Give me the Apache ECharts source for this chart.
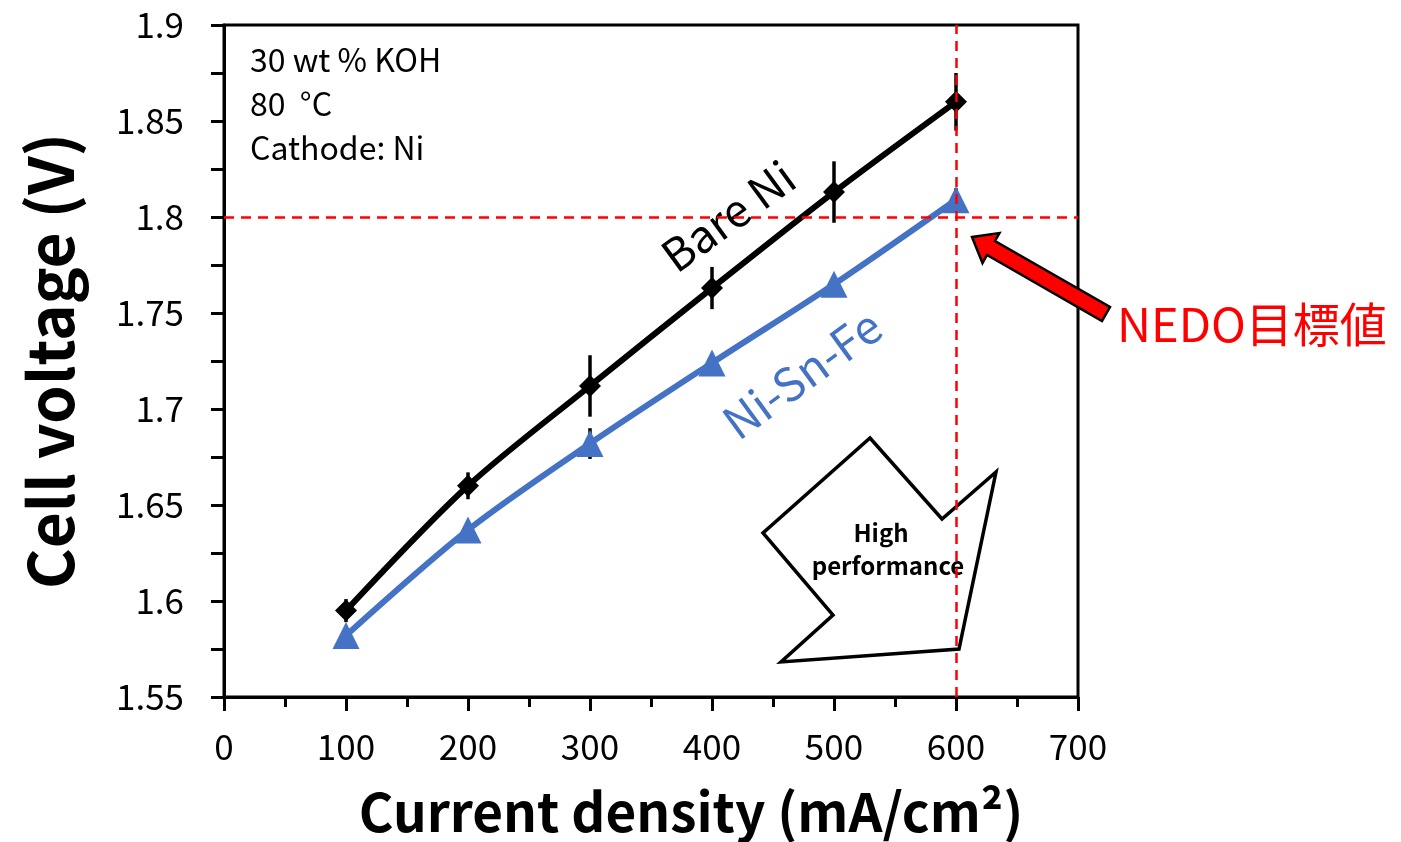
<!DOCTYPE html>
<html>
<head>
<meta charset="utf-8">
<script src="https://cdn.jsdelivr.net/npm/echarts@6/dist/echarts.min.js"></script>
<style>
  html, body { margin: 0; padding: 0; background: #fff; }
  #chart { width: 1401px; height: 842px; }
</style>
</head>
<body>
<div id="chart"></div>
<script>
// data
const currentDensity = [100, 200, 300, 400, 500, 600];
const bareNi = [1.595, 1.660, 1.712, 1.763, 1.813, 1.860];
const bareNiErr = [0.006, 0.007, 0.016, 0.011, 0.016, 0.015];
const niSnFe = [1.582, 1.637, 1.682, 1.724, 1.765, 1.809];
const niSnFeErr = [0.003, 0.004, 0.008, 0.004, 0.002, 0.006];
const targetVoltage = 1.8;   // NEDO target
const targetCurrent = 600;

const FONT = '"Noto Sans CJK JP", "Noto Sans", sans-serif';
const BLUE = '#4472C4';

function pairs(ys) {
  return currentDensity.map((x, i) => [x, ys[i]]);
}
function errData(ys, errs) {
  return currentDensity.map((x, i) => [x, ys[i], errs[i]]);
}
// vertical error bar drawn through the axes
function renderErr(params, api) {
  const x = api.value(0), y = api.value(1), e = api.value(2);
  const p1 = api.coord([x, y + e]);
  const p2 = api.coord([x, y - e]);
  return {
    type: 'line',
    shape: { x1: p1[0], y1: p1[1], x2: p2[0], y2: p2[1] },
    style: { stroke: '#000', lineWidth: 3.5 }
  };
}

const deg = Math.PI / 180;

const option = {
  animation: false,
  grid: {
    left: 224, right: 323, top: 25, bottom: 145,
    outerBoundsMode: 'none', containLabel: false,
    show: true, borderColor: '#000', borderWidth: 3
  },
  xAxis: {
    type: 'value', min: 0, max: 700, interval: 100,
    name: 'Current density (mA/cm²)',
    nameLocation: 'middle', nameGap: 88,
    nameTextStyle: { fontFamily: FONT, fontSize: 53, fontWeight: 'bold', color: '#000', padding: [0, 0, 0, 80] },
    axisLine: { lineStyle: { color: '#000', width: 3 } },
    axisTick: { length: 14, lineStyle: { color: '#000', width: 3 } },
    minorTick: { show: true, splitNumber: 2, length: 10, lineStyle: { color: '#000', width: 3 } },
    splitLine: { show: false },
    axisLabel: { fontFamily: FONT, fontSize: 35, color: '#000', margin: 32 }
  },
  yAxis: {
    type: 'value', min: 1.55, max: 1.9, interval: 0.05,
    name: 'Cell voltage (V)',
    nameLocation: 'middle', nameGap: 143,
    nameTextStyle: { fontFamily: FONT, fontSize: 62, fontWeight: 'bold', color: '#000' },
    axisLine: { lineStyle: { color: '#000', width: 3 } },
    axisTick: { length: 13, lineStyle: { color: '#000', width: 3 } },
    minorTick: { show: true, splitNumber: 2, length: 13, lineStyle: { color: '#000', width: 3 } },
    splitLine: { show: false },
    axisLabel: { fontFamily: FONT, fontSize: 35, color: '#000', margin: 40 }
  },
  series: [
    {
      // target lines
      type: 'line', data: [], silent: true, z: 1,
      markLine: {
        silent: true, symbol: 'none', label: { show: false },
        lineStyle: { color: '#FF0000', width: 2.5, type: [10, 7] },
        data: [{ yAxis: targetVoltage }, { xAxis: targetCurrent }]
      }
    },
    {
      type: 'custom', renderItem: renderErr, data: errData(bareNi, bareNiErr), z: 2, silent: true
    },
    {
      type: 'custom', renderItem: renderErr, data: errData(niSnFe, niSnFeErr), z: 2, silent: true
    },
    {
      name: 'Bare Ni', type: 'line', data: pairs(bareNi), z: 3,
      smooth: 0.3, symbol: 'diamond', symbolSize: 22,
      lineStyle: { color: '#000', width: 6 },
      itemStyle: { color: '#000' }
    },
    {
      name: 'Ni-Sn-Fe', type: 'line', data: pairs(niSnFe), z: 4,
      smooth: 0.3, symbol: 'triangle', symbolSize: 27,
      lineStyle: { color: BLUE, width: 6 },
      itemStyle: { color: BLUE }
    }
  ],
  graphic: [
    {
      type: 'text', left: 250, top: 38,
      style: {
        text: '30 wt % KOH\n80  °C\nCathode: Ni',
        font: '32px ' + FONT, fill: '#000', lineHeight: 44
      }
    },
    {
      type: 'text', x: 728, y: 216, rotation: 36 * deg,
      style: { text: 'Bare Ni', font: '45px ' + FONT, fill: '#000', align: 'center', verticalAlign: 'middle' }
    },
    {
      type: 'text', x: 802, y: 374, rotation: 36 * deg,
      style: { text: 'Ni-Sn-Fe', font: '46px ' + FONT, fill: BLUE, align: 'center', verticalAlign: 'middle' }
    },
    {
      type: 'polygon',
      shape: { points: [[870, 438], [942, 519], [996, 472], [959, 649], [781, 662], [833, 615], [763, 533]] },
      style: { fill: 'none', stroke: '#000', lineWidth: 3.5, lineJoin: 'miter' }
    },
    {
      type: 'text', x: 881, y: 533,
      style: { text: 'High', font: 'bold 24px ' + FONT, fill: '#000', align: 'center', verticalAlign: 'middle' }
    },
    {
      type: 'text', x: 888, y: 566,
      style: { text: 'performance', font: 'bold 24px ' + FONT, fill: '#000', align: 'center', verticalAlign: 'middle' }
    },
    {
      type: 'polygon',
      shape: { points: [[972, 237], [999.5, 233], [995, 241], [1110, 307], [1102, 321], [987, 255], [982.5, 263]] },
      style: { fill: '#FF0000', stroke: '#000', lineWidth: 2.5, lineJoin: 'miter' }
    },
    {
      type: 'text', left: 1117, top: 301,
      style: { text: 'NEDO目標値', font: '47px ' + FONT, fill: '#FF0000' }
    }
  ]
};

const myChart = echarts.init(document.getElementById('chart'));
myChart.setOption(option);
window.addEventListener('resize', () => {
  myChart.resize();
});
</script>
</body>
</html>
